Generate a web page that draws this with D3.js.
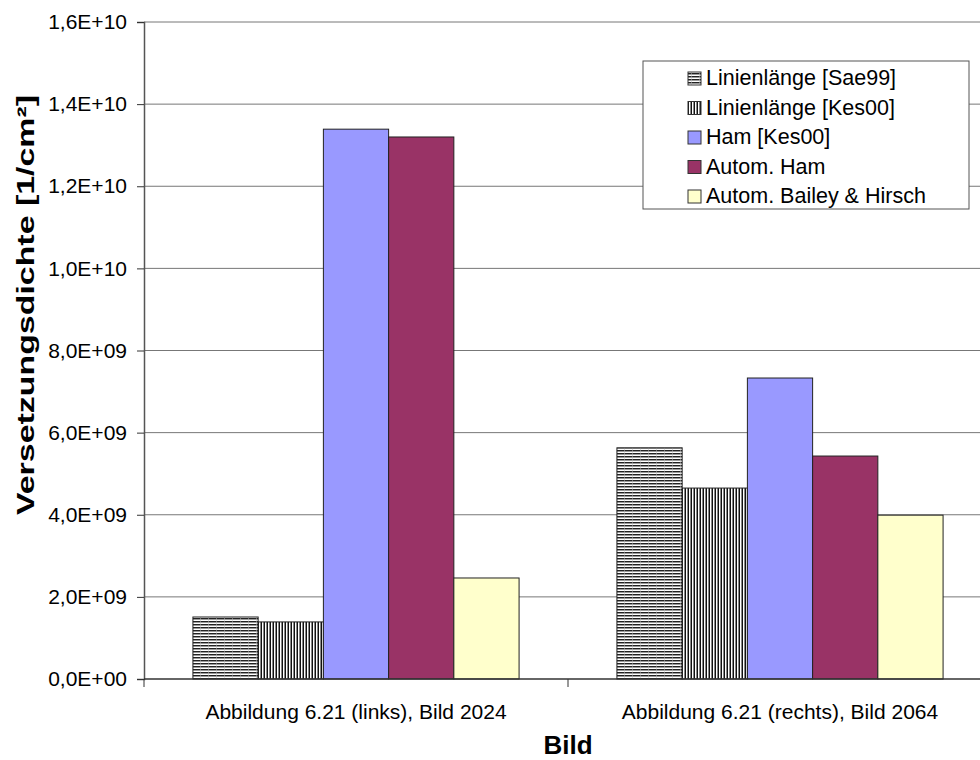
<!DOCTYPE html>
<html>
<head>
<meta charset="utf-8" />
<title>Versetzungsdichte</title>
<script src="https://d3js.org/d3.v7.min.js"></script>
<style>
  body { margin: 0; background: #fff; }
  svg { font-family: "Liberation Sans", Arial, sans-serif; display: block; }
  .tick text { font-size: 21px; fill: #000; font-family: "Liberation Sans", Arial, sans-serif; }
</style>
</head>
<body>
<div id="chart"></div>
<script>
// data
var categories = ["Abbildung 6.21 (links), Bild 2024", "Abbildung 6.21 (rechts), Bild 2064"];
var seriesNames = ["Linienlänge [Sae99]", "Linienlänge [Kes00]", "Ham [Kes00]", "Autom. Ham", "Autom. Bailey & Hirsch"];
var seriesFills = ["url(#patH)", "url(#patV)", "#9999ff", "#993366", "#ffffcc"];
var valuesSae99 = [1.51e9, 5.63e9];
var valuesKes00 = [1.39e9, 4.65e9];
var valuesHam = [13.39e9, 7.33e9];
var valuesAutoHam = [13.2e9, 5.43e9];
var valuesBailey = [2.46e9, 3.99e9];
var allValues = [valuesSae99, valuesKes00, valuesHam, valuesAutoHam, valuesBailey];
var yTicks = [0, 2e9, 4e9, 6e9, 8e9, 1e10, 1.2e10, 1.4e10, 1.6e10];

var W = 980, H = 760;
var mLeft = 144, mRight = 992, mTop = 22, mBottom = 679;

var svg = d3.select("#chart").append("svg")
    .attr("width", W).attr("height", H);

// hatch patterns
var defs = svg.append("defs");
var ph = defs.append("pattern").attr("id", "patH")
    .attr("patternUnits", "userSpaceOnUse").attr("width", 8).attr("height", 3);
ph.append("rect").attr("width", 8).attr("height", 3).attr("fill", "#fff");
ph.append("rect").attr("width", 8).attr("height", 1).attr("y", 0).attr("fill", "#222");
ph.append("rect").attr("width", 8).attr("height", 1).attr("y", 1).attr("fill", "#999");
ph.append("rect").attr("width", 1).attr("height", 3).attr("x", 0).attr("fill", "#bbb").attr("opacity", 0.5);

var pv = defs.append("pattern").attr("id", "patV")
    .attr("patternUnits", "userSpaceOnUse").attr("width", 3).attr("height", 8);
pv.append("rect").attr("width", 3).attr("height", 8).attr("fill", "#fff");
pv.append("rect").attr("width", 1).attr("height", 8).attr("x", 0).attr("fill", "#111");
pv.append("rect").attr("width", 1).attr("height", 8).attr("x", 2).attr("fill", "#888");

var x0 = d3.scaleBand().domain(categories).range([mLeft, mRight]).paddingInner(0).paddingOuter(0);
var x1 = d3.scaleBand().domain(seriesNames).range([0, x0.bandwidth()]).paddingInner(0).paddingOuter(0.75);
var y = d3.scaleLinear().domain([0, 1.6e10]).range([mBottom, mTop]);

var fmt = function(v) {
  var s = v.toExponential(1).toUpperCase().replace(".", ",");
  return s.replace(/E([+-])(\d)$/, "E$10$2");
};

// gridlines
svg.append("g").selectAll("line").data(yTicks.slice(1)).join("line")
    .attr("x1", mLeft).attr("x2", W)
    .attr("y1", function(d) { return y(d); }).attr("y2", function(d) { return y(d); })
    .attr("stroke", "#777").attr("stroke-width", 1);

// bars
var groups = svg.append("g").selectAll("g").data(categories).join("g")
    .attr("transform", function(d) { return "translate(" + x0(d) + ",0)"; });
groups.selectAll("rect")
    .data(function(c, ci) { return seriesNames.map(function(s, si) { return {s: s, i: si, v: allValues[si][ci]}; }); })
    .join("rect")
    .attr("x", function(d) { return x1(d.s); })
    .attr("width", x1.bandwidth())
    .attr("y", function(d) { return y(d.v); })
    .attr("height", function(d) { return mBottom - y(d.v); })
    .attr("fill", function(d) { return seriesFills[d.i]; })
    .attr("stroke", "#222").attr("stroke-width", 1);

// y axis
var yAxis = svg.append("g").attr("transform", "translate(" + mLeft + ",0)")
    .call(d3.axisLeft(y).tickValues(yTicks).tickFormat(fmt).tickSize(7).tickPadding(10));
yAxis.select(".domain").attr("stroke", "#555").attr("stroke-width", 1.5);
yAxis.selectAll(".tick line").attr("stroke", "#333");

// x axis
var xAxis = svg.append("g").attr("transform", "translate(0," + mBottom + ")")
    .call(d3.axisBottom(x0).tickSize(0).tickPadding(25));
xAxis.select(".domain").remove();
svg.append("line").attr("x1", mLeft).attr("x2", W).attr("y1", mBottom).attr("y2", mBottom)
    .attr("stroke", "#333").attr("stroke-width", 1.5);
svg.append("g").selectAll("line").data([mLeft, x0(categories[1])]).join("line")
    .attr("x1", function(d) { return d; }).attr("x2", function(d) { return d; })
    .attr("y1", mBottom).attr("y2", mBottom + 8).attr("stroke", "#333");

// axis titles
svg.append("text").attr("x", 568).attr("y", 754).attr("text-anchor", "middle")
    .attr("font-size", 26).attr("font-weight", "bold").text("Bild");
svg.append("text").attr("transform", "translate(34,305) rotate(-90)").attr("text-anchor", "middle")
    .attr("font-size", 24).attr("font-weight", "bold")
    .attr("textLength", 420).attr("lengthAdjust", "spacingAndGlyphs")
    .text("Versetzungsdichte [1/cm²]");

// legend
var lg = svg.append("g").attr("transform", "translate(643,61)");
lg.append("rect").attr("width", 326).attr("height", 148).attr("fill", "#fff").attr("stroke", "#555");
var items = lg.selectAll("g").data(seriesNames).join("g")
    .attr("transform", function(d, i) { return "translate(0," + (24 + i * 29.5) + ")"; });
items.append("rect").attr("x", 45).attr("y", -13).attr("width", 13).attr("height", 13)
    .attr("fill", function(d, i) { return seriesFills[i]; }).attr("stroke", "#333");
items.append("text").attr("x", 63).attr("y", 0).attr("font-size", 21.5).text(function(d) { return d; });
</script>
</body>
</html>
